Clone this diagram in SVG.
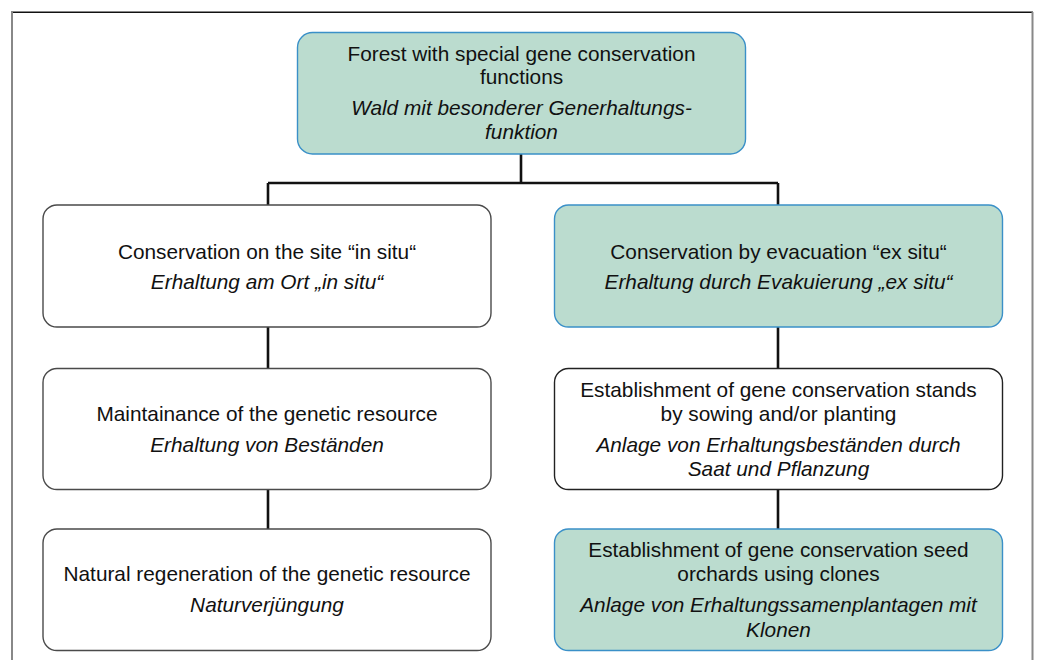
<svg xmlns="http://www.w3.org/2000/svg" width="1038" height="660" viewBox="0 0 1038 660">
<style>
text{font-family:"Liberation Sans",Arial,Helvetica,sans-serif;font-size:20.8px;fill:#111;text-anchor:middle}
.it{font-style:italic}
.g{fill:#bbdccf;stroke:#3a90c8;stroke-width:1.4}
.w{fill:#fff;stroke:#4a4a4a;stroke-width:1.4}
.c{stroke:#111;stroke-width:2.6;fill:none}
</style>
<rect width="1038" height="660" fill="#fff"/>
<g id="frame">
<line x1="11" y1="12.3" x2="1033" y2="12.3" stroke="#111" stroke-width="1.6"/>
<line x1="12" y1="12" x2="12" y2="660" stroke="#888" stroke-width="2"/>
<line x1="1032.5" y1="12" x2="1032.5" y2="660" stroke="#888" stroke-width="2"/>
</g>
<g id="connectors">
<path class="c" d="M521,154 V183 M268,183 H778 M268,183 V205 M778,183 V205 M268,327 V368 M268,490 V529 M778,327 V368 M778,490 V529"/>
</g>
<g id="top">
<rect class="g" x="297.5" y="32.5" width="448" height="121.5" rx="15"/>
<text x="521.5" y="60.5">Forest with special gene conservation</text>
<text x="521.5" y="84">functions</text>
<text class="it" x="521.5" y="114.5">Wald mit besonderer Generhaltungs-</text>
<text class="it" x="521.5" y="138.5">funktion</text>
</g>
<g id="insitu">
<rect class="w" x="43" y="205" width="448" height="122" rx="14"/>
<text x="267" y="258.5">Conservation on the site “in situ“</text>
<text class="it" x="267" y="289">Erhaltung am Ort „in situ“</text>
</g>
<g id="exsitu">
<rect class="g" x="554.5" y="205" width="448" height="122" rx="14"/>
<text x="778.5" y="258.5">Conservation by evacuation “ex situ“</text>
<text class="it" x="778.5" y="289">Erhaltung durch Evakuierung „ex situ“</text>
</g>
<g id="maintain">
<rect class="w" x="43" y="368.5" width="448" height="121" rx="14"/>
<text x="267" y="421">Maintainance of the genetic resource</text>
<text class="it" x="267" y="451.7">Erhaltung von Beständen</text>
</g>
<g id="natural">
<rect class="w" x="43" y="529" width="448" height="121.5" rx="14"/>
<text x="267" y="580.7">Natural regeneration of the genetic resource</text>
<text class="it" x="267" y="612.3">Naturverjüngung</text>
</g>
<g id="stands">
<rect class="w" x="554.5" y="368.5" width="448" height="121" rx="14" style="stroke:#222"/>
<text x="778.5" y="396.7">Establishment of gene conservation stands</text>
<text x="778.5" y="421">by sowing and/or planting</text>
<text class="it" x="778.5" y="451.7">Anlage von Erhaltungsbeständen durch</text>
<text class="it" x="778.5" y="475.7">Saat und Pflanzung</text>
</g>
<g id="orchards">
<rect class="g" x="554.5" y="529" width="448" height="121.5" rx="14"/>
<text x="778.5" y="556.7">Establishment of gene conservation seed</text>
<text x="778.5" y="581">orchards using clones</text>
<text class="it" x="778.5" y="612.3">Anlage von Erhaltungssamenplantagen mit</text>
<text class="it" x="778.5" y="636.7">Klonen</text>
</g>
</svg>
